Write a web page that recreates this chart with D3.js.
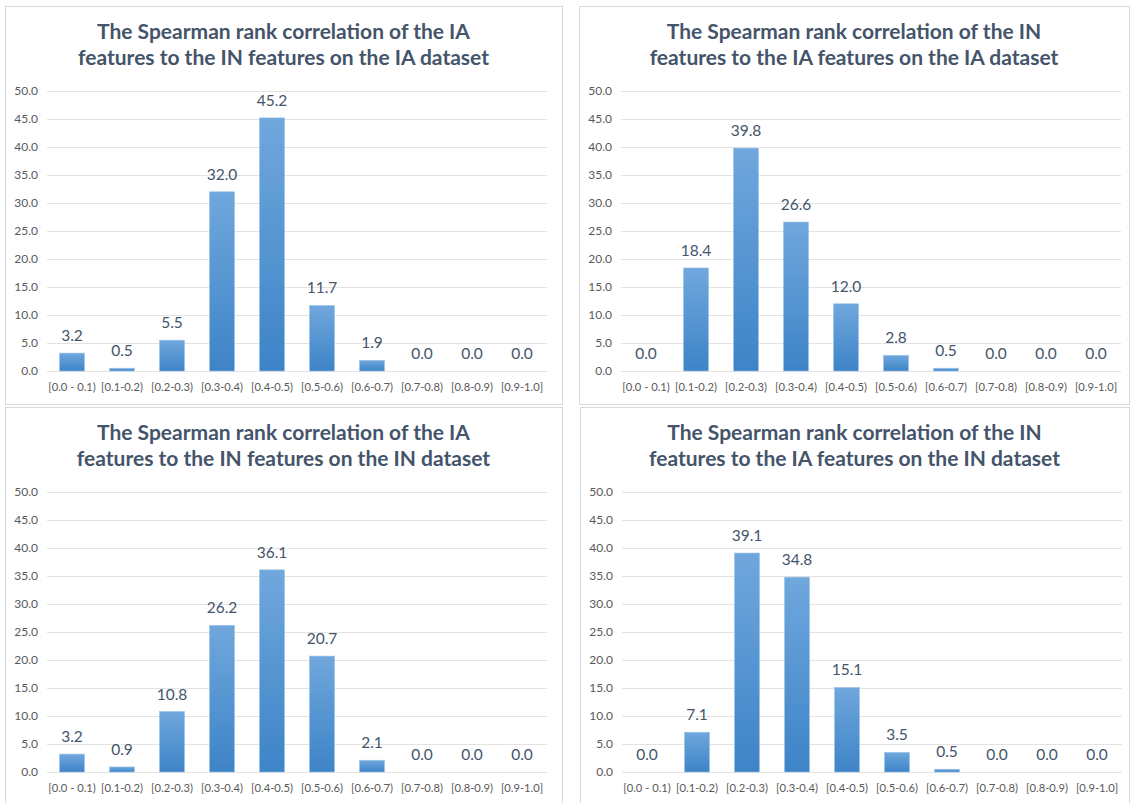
<!DOCTYPE html>
<html>
<head>
<meta charset="utf-8">
<script src="https://cdn.jsdelivr.net/npm/d3@7"></script>
<style>
    body { margin: 0; background: #fff; }
    svg { display: block; }
    .panel-box { fill: #fff; stroke: #d9d9d9; stroke-width: 1; }
    .title { font-family: Lato, 'Open Sans', sans-serif; font-weight: bold; font-size: 21px; fill: #44546a; }
    .tick-label { font-family: Lato, sans-serif; font-size: 12px; fill: #595959; }
    .x-label { font-size: 11.2px; }
    .grid line { stroke: #e3e3e3; stroke-width: 1; }
    .bar-label { font-family: Lato, sans-serif; font-size: 15.5px; fill: #44546a; }
</style>
</head>
<body>
<svg width="1130" height="803"></svg>
<script>
'use strict';

///////////////////////////// data ///////////////////////////
var categories = ['[0.0 - 0.1)', '[0.1-0.2)', '[0.2-0.3)', '[0.3-0.4)', '[0.4-0.5)',
                  '[0.5-0.6)', '[0.6-0.7)', '[0.7-0.8)', '[0.8-0.9)', '[0.9-1.0]'];
var yTicks = [0, 5, 10, 15, 20, 25, 30, 35, 40, 45, 50];

var iaToInOnIa = [3.2, 0.5, 5.5, 32.0, 45.2, 11.7, 1.9, 0.0, 0.0, 0.0];
var inToIaOnIa = [0.0, 18.4, 39.8, 26.6, 12.0, 2.8, 0.5, 0.0, 0.0, 0.0];
var iaToInOnIn = [3.2, 0.9, 10.8, 26.2, 36.1, 20.7, 2.1, 0.0, 0.0, 0.0];
var inToIaOnIn = [0.0, 7.1, 39.1, 34.8, 15.1, 3.5, 0.5, 0.0, 0.0, 0.0];

var titles = [
    ['The Spearman rank correlation of the IA', 'features to the IN features on the IA dataset'],
    ['The Spearman rank correlation of the IN', 'features to the IA features on the IA dataset'],
    ['The Spearman rank correlation of the IA', 'features to the IN features on the IN dataset'],
    ['The Spearman rank correlation of the IN', 'features to the IA features on the IN dataset']
];
var series = [iaToInOnIa, inToIaOnIa, iaToInOnIn, inToIaOnIn];

///////////////////////////// layout ///////////////////////////
var boxes = [
    {x: 5,   y: 6,   w: 557, h: 398},
    {x: 579, y: 6,   w: 550, h: 398},
    {x: 5,   y: 407, w: 557, h: 402},
    {x: 580, y: 407, w: 549, h: 402}
];
var plotLeft = 42, plotTop = 85, plotWidth = 500, plotHeight = 280;

var svg = d3.select('svg');

// shared gradient for the bars (relative to each bar)
var grad = svg.append('defs').append('linearGradient')
    .attr('id', 'barFill')
    .attr('x1', 0).attr('y1', 0).attr('x2', 0).attr('y2', 1);
grad.append('stop').attr('offset', '0%').attr('stop-color', '#70a7dd');
grad.append('stop').attr('offset', '100%').attr('stop-color', '#3d84c7');

function drawPanel(box, title, values) {
    var g = svg.append('g').attr('transform', 'translate(' + box.x + ',' + box.y + ')');

    g.append('rect')
        .attr('class', 'panel-box')
        .attr('x', 0.5).attr('y', 0.5)
        .attr('width', box.w).attr('height', box.h);

    g.selectAll('.title')
        .data(title)
        .enter()
        .append('text')
        .attr('class', 'title')
        .attr('text-anchor', 'middle')
        .attr('x', box.w / 2)
        .attr('y', function(d, i) { return 33 + i * 26; })
        .text(function(d) { return d; });

    var canvas = g.append('g').attr('transform', 'translate(' + plotLeft + ',' + plotTop + ')');

    var x = d3.scaleBand()
        .domain(categories)
        .range([0, plotWidth])
        .paddingInner(0.5)
        .paddingOuter(0.25);
    var y = d3.scaleLinear()
        .domain([0, 50])
        .range([plotHeight, 0]);

    // gridlines
    canvas.append('g')
        .attr('class', 'grid')
        .selectAll('line')
        .data(yTicks)
        .enter()
        .append('line')
        .attr('x1', 0).attr('x2', plotWidth)
        .attr('y1', function(d) { return Math.round(y(d)) + 0.5; })
        .attr('y2', function(d) { return Math.round(y(d)) + 0.5; });

    // y tick labels
    canvas.selectAll('.y-label')
        .data(yTicks)
        .enter()
        .append('text')
        .attr('class', 'tick-label y-label')
        .attr('text-anchor', 'end')
        .attr('x', -9)
        .attr('y', function(d) { return y(d) + 4; })
        .text(function(d) { return d3.format('.1f')(d); });

    // x category labels
    canvas.selectAll('.x-label')
        .data(categories)
        .enter()
        .append('text')
        .attr('class', 'tick-label x-label')
        .attr('text-anchor', 'middle')
        .attr('x', function(d) { return x(d) + x.bandwidth() / 2; })
        .attr('y', plotHeight + 20)
        .text(function(d) { return d; });

    var data = values.map(function(v, i) { return {cat: categories[i], value: v}; });

    canvas.selectAll('.bar')
        .data(data)
        .enter()
        .append('rect')
        .attr('class', 'bar')
        .attr('x', function(d) { return x(d.cat); })
        .attr('width', x.bandwidth())
        .attr('y', function(d) { return y(d.value); })
        .attr('height', function(d) { return plotHeight - y(d.value); })
        .attr('fill', 'url(#barFill)')
        .attr('stroke', '#9cc3e8')
        .attr('stroke-width', function(d) { return d.value > 0 ? 0.6 : 0; });

    canvas.selectAll('.bar-label')
        .data(data)
        .enter()
        .append('text')
        .attr('class', 'bar-label')
        .attr('text-anchor', 'middle')
        .attr('x', function(d) { return x(d.cat) + x.bandwidth() / 2; })
        .attr('y', function(d) { return y(d.value) - 12; })
        .text(function(d) { return d3.format('.1f')(d.value); });
}

boxes.forEach(function(box, i) {
    drawPanel(box, titles[i], series[i]);
});
</script>
</body>
</html>
